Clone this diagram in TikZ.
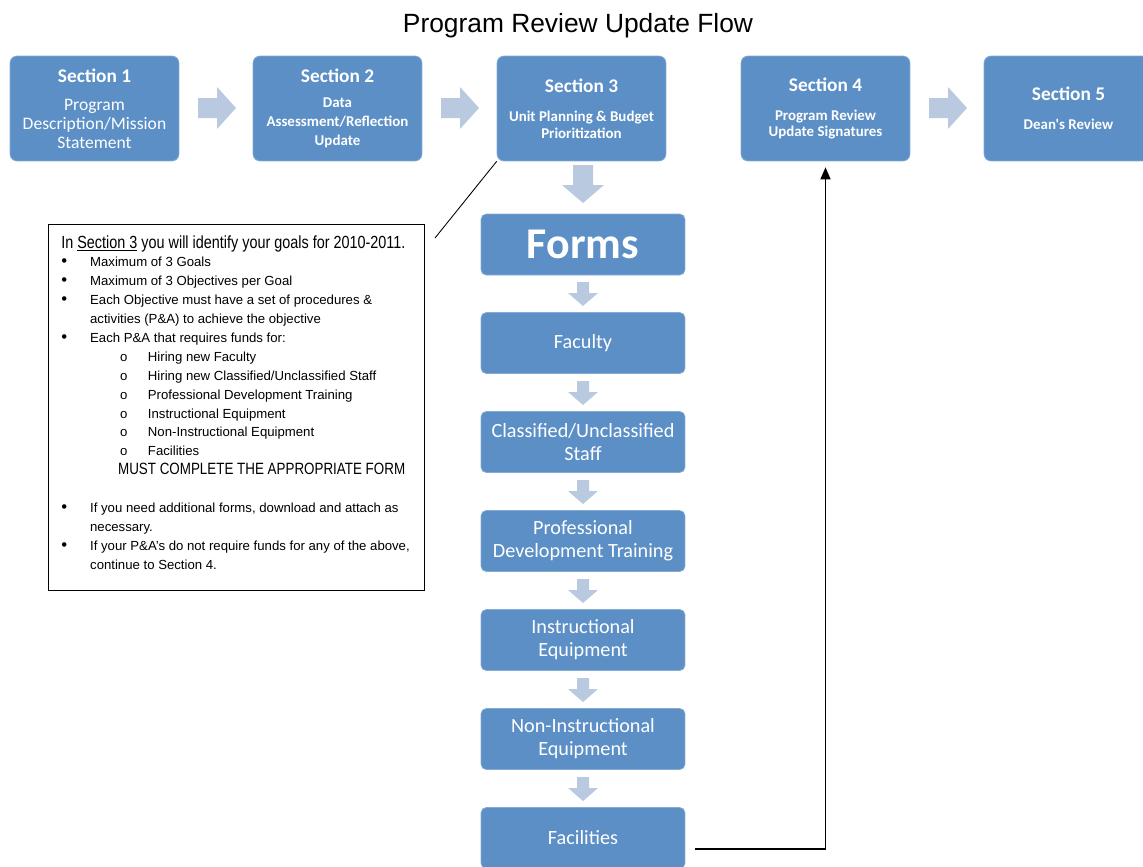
\documentclass[tikz,border=0pt]{standalone}
\usepackage{fontspec}
\setmainfont{Liberation Sans}
\newfontfamily\calfont{Carlito}
\newfontfamily\narrowfont[FakeStretch=0.82]{Liberation Sans}
\usetikzlibrary{arrows.meta}
\definecolor{boxblue}{RGB}{91,143,198}
\definecolor{arrowblue}{RGB}{185,201,224}
\newcommand{\bul}{\makebox[16.4pt][l]{{\fontsize{9.5}{9.5}\selectfont\textbullet}}}
\newcommand{\subbul}{\hspace*{33.4pt}\makebox[15.9pt][l]{o}}
\tikzset{
  secbox/.style={fill=boxblue, draw=boxblue!75!white, rounded corners=4pt,
    minimum width=3.38cm, minimum height=2.1cm, text=white, align=center, inner sep=1pt},
  formbox/.style={fill=boxblue, draw=boxblue!75!white, rounded corners=3pt,
    minimum width=4.08cm, minimum height=1.22cm, text=white, align=center, inner sep=1pt,
    font=\calfont\fontsize{11.5}{13}\selectfont},
  backline/.style={line width=0.8pt, -{Triangle[length=6.8pt,width=5.7pt]}}
}

\begin{document}
\begin{tikzpicture}[x=0.02cm, y=-0.02cm]
    \useasboundingbox (0,0) rectangle (1143,866);
    \node[font=\fontsize{15}{18}\selectfont] (title) at (578,26) {Program Review Update Flow};
    % top row
    \node[secbox, font=\calfont\fontsize{10}{10.8}\selectfont] (sec1) at (94.5,108.5)
      {{\bfseries\fontsize{11}{11}\selectfont Section 1}\\[5pt]Program\\Description/Mission\\Statement};
    \node[secbox, font=\calfont\bfseries\fontsize{8.5}{10.8}\selectfont] (sec2) at (337.5,108.5)
      {{\fontsize{11}{11}\selectfont Section 2}\\[3.4pt]Data\\Assessment/Reflection\\Update};
    \node[secbox, font=\calfont\bfseries\fontsize{8.5}{9.6}\selectfont] (sec3) at (581.5,108.5)
      {{\fontsize{11}{11}\selectfont Section 3}\\[6.8pt]Unit Planning \& Budget\\Prioritization};
    \node[secbox, font=\calfont\bfseries\fontsize{8.5}{9.6}\selectfont] (sec4) at (825.5,108.5)
      {{\fontsize{11}{11}\selectfont Section 4}\\[6.8pt]Program Review\\Update Signatures};
    \node[secbox, font=\calfont\bfseries\fontsize{8.5}{9.6}\selectfont] (sec5) at (1068.5,108.5)
      {{\fontsize{11}{11}\selectfont Section 5}\\[6.8pt]Dean's Review};
    \foreach \ax in {198,441,929}
      \fill[arrowblue] (\ax,98) -- (\ax+19,98) -- (\ax+19,87) -- (\ax+38,108)
        -- (\ax+19,129) -- (\ax+19,118) -- (\ax,118) -- cycle;
    % forms column
    \fill[arrowblue] (573,165) -- (593,165) -- (593,185) -- (604,185) -- (583,203)
      -- (562,185) -- (573,185) -- cycle;
    \node[formbox, font=\calfont\bfseries\fontsize{25}{28}\selectfont] (forms) at (583,244.5) {Forms};
    \node[formbox] (fac) at (583,343) {Faculty};
    \node[formbox] (staff) at (583,442) {Classified/Unclassified\\Staff};
    \node[formbox] (pdt) at (583,541) {Professional\\Development Training};
    \node[formbox] (inst) at (583,640) {Instructional\\Equipment};
    \node[formbox] (noninst) at (583,739) {Non-Instructional\\Equipment};
    \node[formbox] (facil) at (583,838) {Facilities};
    \foreach \ay in {282,381,480,579,678,777}
      \fill[arrowblue] (577,\ay) -- (589,\ay) -- (589,\ay+11) -- (598,\ay+11) -- (583,\ay+24)
        -- (568,\ay+11) -- (577,\ay+11) -- cycle;
    % notes
    \node[draw, line width=0.7pt, anchor=north west, minimum width=7.52cm, minimum height=7.32cm,
      inner sep=0pt] (notebox) at (48,224) {};
    \node[anchor=north west, inner sep=0pt, align=left, font=\fontsize{7.5}{10.75}\selectfont]
      (notes) at (61,235) {%
      {\narrowfont\fontsize{10}{10.75}\selectfont In \underline{Section 3} you will identify your goals for 2010-2011.}\\
      \bul Maximum of 3 Goals\\
      \bul Maximum of 3 Objectives per Goal\\
      \bul Each Objective must have a set of procedures \&\\
      \hspace*{16.4pt}activities (P\&A) to achieve the objective\\
      \bul Each P\&A that requires funds for:\\
      \subbul Hiring new Faculty\\
      \subbul Hiring new Classified/Unclassified Staff\\
      \subbul Professional Development Training\\
      \subbul Instructional Equipment\\
      \subbul Non-Instructional Equipment\\
      \subbul Facilities\\
      \hspace*{32.3pt}{\narrowfont\fontsize{9.3}{10.75}\selectfont MUST COMPLETE THE APPROPRIATE FORM}\\[10.75pt]
      \bul If you need additional forms, download and attach as\\
      \hspace*{16.4pt}necessary.\\
      \bul If your P\&A's do not require funds for any of the above,\\
      \hspace*{16.4pt}continue to Section 4.};
    \coordinate (callout) at (435,238);
    \draw[line width=0.5pt] (sec3.south west) -- (callout);
    % back to section 4
    \coordinate (ret) at (695,849);
    \draw[backline] (ret) -| ([yshift=-3.4pt]sec4.south);
\end{tikzpicture}
\end{document}
